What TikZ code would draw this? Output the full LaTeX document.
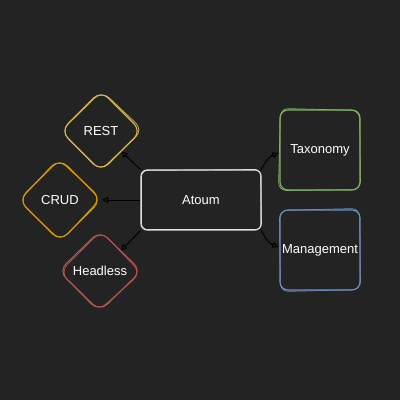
\documentclass[tikz,border=0pt]{standalone}
\usepackage{fontspec}
\setmainfont{Liberation Sans}
\usetikzlibrary{shapes.geometric,arrows.meta}
\definecolor{bg}{HTML}{232323}
\definecolor{atc}{HTML}{E0E0E0}
\definecolor{restc}{HTML}{D6B656}
\definecolor{crudc}{HTML}{D79B00}
\definecolor{headc}{HTML}{B85450}
\definecolor{taxc}{HTML}{82B366}
\definecolor{mgmc}{HTML}{6C8EBF}
\tikzset{
  lbl/.style={font=\fontsize{13}{15}\selectfont, text=white},
  boxst/.style={lbl, rectangle, rounded corners=6pt, line width=1.1pt, inner sep=0pt},
  diast/.style={lbl, diamond, rounded corners=10pt, minimum width=81pt, minimum height=81pt, inner sep=0pt, line width=1.1pt},
  sk/.style={line width=0.7pt},
  arr/.style={draw=black, line width=1pt, -{Triangle[open,length=6pt,width=6pt]}}
}
\begin{document}
\begin{tikzpicture}[x=1pt,y=-1pt]
\fill[bg] (0,0) rectangle (400,400);
\useasboundingbox (0,0) rectangle (400,400);
% main node
\node[boxst, draw=atc, minimum width=120pt, minimum height=60pt] (atoum) at (201,200) {Atoum};
\draw[sk, atc, rounded corners=6pt] ([shift={(1,1)}]atoum.north west) -- ([shift={(-1,0)}]atoum.north east) -- ([shift={(0,-1)}]atoum.south east) -- ([shift={(1,-1)}]atoum.south west) -- cycle;
% right boxes
\node[boxst, draw=taxc, rounded corners=8pt, minimum width=80pt, minimum height=80pt] (tax) at (320,150) {Taxonomy};
\draw[sk, taxc, rounded corners=8pt] ([shift={(1,-1)}]tax.north west) -- ([shift={(-1,1)}]tax.north east) -- ([shift={(0,-1)}]tax.south east) -- ([shift={(-1,0)}]tax.south west) -- cycle;
\node[boxst, draw=mgmc, rounded corners=8pt, minimum width=80pt, minimum height=80pt] (mgm) at (320,250) {Management};
\draw[sk, mgmc, rounded corners=8pt] ([shift={(0,1)}]mgm.north west) -- ([shift={(-1,-1)}]mgm.north east) -- ([shift={(0,-1)}]mgm.south east) -- ([shift={(1,1)}]mgm.south west) -- cycle;
% diamonds
\node[diast, draw=restc] (rest) at (101,131) {REST};
\draw[sk, restc, rounded corners=10pt] ([shift={(1,1)}]rest.north) -- ([shift={(1,-1)}]rest.east) -- ([shift={(-1,-1)}]rest.south) -- ([shift={(1,0)}]rest.west) -- cycle;
\node[diast, draw=crudc, minimum width=83pt, minimum height=83pt] (crud) at (60,200) {CRUD};
\draw[sk, crudc, rounded corners=10pt] ([shift={(-2,1)}]crud.north) -- ([shift={(-1,-2)}]crud.east) -- ([shift={(1,-1)}]crud.south) -- ([shift={(1,1)}]crud.west) -- cycle;
\node[diast, draw=headc, minimum width=83pt, minimum height=81pt] (head) at (100,271) {Headless};
\draw[sk, headc, rounded corners=10pt] ([shift={(1,1)}]head.north) -- ([shift={(-1,2)}]head.east) -- ([shift={(-2,-1)}]head.south) -- ([shift={(2,1)}]head.west) -- cycle;
% connectors
\draw[arr] (atoum.north west) -- (rest.south east);
\draw[arr] (atoum.west) -- (crud.east);
\draw[arr] (atoum.south west) -- (head.north east);
\draw[arr] ([shift={(-1,1)}]atoum.north east) .. controls +(6,-10) and +(-10,4) .. ([shift={(-1,3)}]tax.west);
\draw[arr] ([shift={(-1,-1)}]atoum.south east) .. controls +(6,10) and +(-10,-4) .. ([shift={(-1,-3)}]mgm.west);
\end{tikzpicture}
\end{document}
